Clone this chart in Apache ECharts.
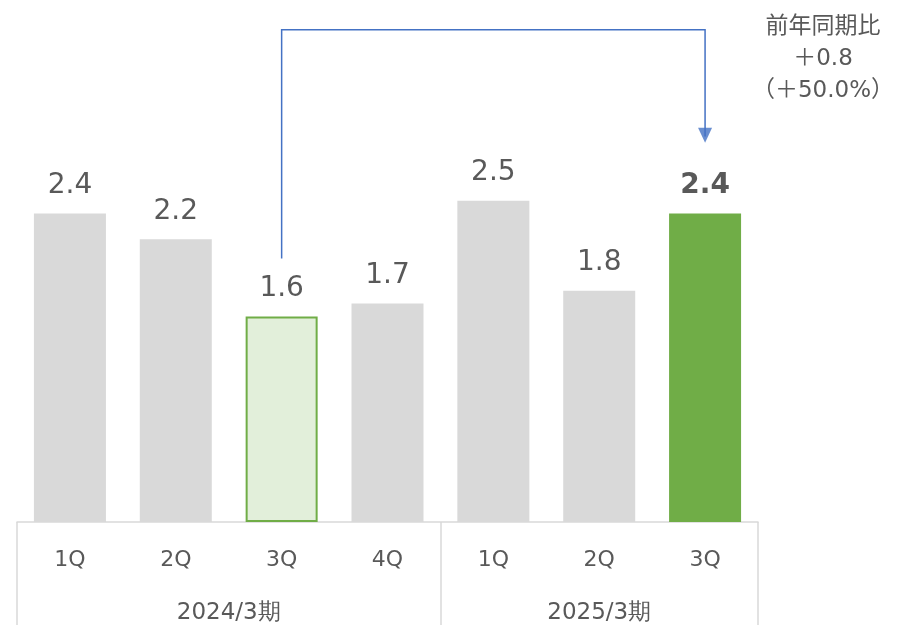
<!DOCTYPE html>
<html><head><meta charset="utf-8">
<script src="https://cdn.jsdelivr.net/npm/echarts@6/dist/echarts.min.js"></script>
<style>html,body{margin:0;padding:0;background:#fff}#c{width:899px;height:625px}</style>
</head><body><div id="c"></div>
<script>
const categories = ['1Q','2Q','3Q','4Q','1Q','2Q','3Q'];
const values = [2.4, 2.2, 1.6, 1.7, 2.5, 1.8, 2.4];
const groups = ['2024/3期','2025/3期'];
const groupSizes = [4, 3];
const compareIndex = 2;
const currentIndex = 6;
const arrowPath = [[2, 2.05], [2, 3.83], [6, 3.83], [6, 3.0]];
const arrowHead = [[6, 3.01]];
const noteLines = ['前年同期比', '＋0.8', '（＋50.0%）'];

const FONT = 'DejaVu Sans';
const TXT = '#595959';
const GREY = '#d9d9d9';

const bounds = [0];
groupSizes.forEach(s => bounds.push(bounds[bounds.length - 1] + s));
const centers = groupSizes.map((s, i) => bounds[i] + s / 2);
const total = bounds[bounds.length - 1];

const barData = values.map((v, i) => {
  const item = { value: v };
  if (i === compareIndex) {
    item.itemStyle = { color: '#e2efda', borderColor: '#70ad47', borderWidth: 2 };
  } else if (i === currentIndex) {
    item.itemStyle = { color: '#70ad47' };
    item.label = { fontWeight: 'bold' };
  }
  return item;
});

const chart = echarts.init(document.getElementById('c'));
chart.setOption({
  animation: false,
  grid: { left: 17, right: 141, top: 8, bottom: 103 },
  xAxis: [
    {
      type: 'category', data: categories, position: 'bottom',
      axisLine: { show: true, lineStyle: { color: GREY, width: 1.5 } },
      axisTick: { show: false },
      axisLabel: { color: TXT, fontFamily: FONT, fontSize: 22, margin: 27 }
    },
    {
      type: 'value', min: 0, max: total, position: 'bottom',
      splitLine: { show: false },
      axisLine: { show: false },
      axisTick: { show: true, customValues: bounds, length: 103, lineStyle: { color: GREY, width: 1.5 } },
      axisLabel: {
        show: true, customValues: centers, color: TXT, fontFamily: FONT, fontSize: 23, margin: 80,
        formatter: v => { const k = centers.indexOf(v); return k >= 0 ? groups[k] : ''; }
      }
    }
  ],
  yAxis: { type: 'value', min: 0, max: 4, show: false, splitLine: { show: false } },
  series: [
    {
      type: 'bar', xAxisIndex: 0, data: barData, barWidth: 72,
      itemStyle: { color: GREY },
      label: { show: true, position: 'top', distance: 14, color: TXT, fontFamily: FONT, fontSize: 28 }
    },
    {
      type: 'lines', coordinateSystem: 'cartesian2d', xAxisIndex: 0, polyline: true, clip: false,
      lineStyle: { color: '#4472c4', width: 1.5, opacity: 1 },
      data: [{ coords: arrowPath }], silent: true, z: 5
    },
    {
      type: 'scatter', xAxisIndex: 0, symbol: 'triangle', symbolRotate: 180, symbolSize: [14, 15],
      itemStyle: { color: '#4472c4' }, data: arrowHead, silent: true, z: 6, clip: false
    }
  ],
  graphic: [{
    type: 'text', x: 823, y: 11,
    style: { text: noteLines.join('\n'), fill: TXT, font: '23px "DejaVu Sans", "Noto Sans CJK JP"', align: 'center', verticalAlign: 'top', lineHeight: 32 }
  }]
});
</script></body></html>
